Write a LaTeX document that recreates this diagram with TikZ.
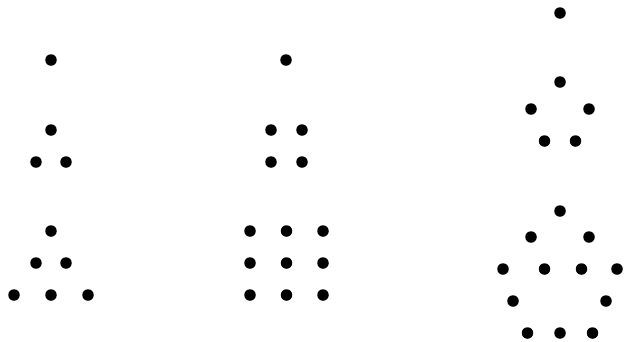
\documentclass[tikz,border=0pt]{standalone}
\usepackage{xcolor}
\usepackage{tikz}
\tikzset{
  dot/.style={circle,fill=black,inner sep=0pt,minimum size=11.5pt}
}
\begin{document}
\begin{tikzpicture}[x=1pt,y=-1pt]
\useasboundingbox (0,0) rectangle (624,341);
% left column: triangular numbers
\node[dot] (t1) at (51,60) {};
\foreach \x/\y [count=\i] in {51/130,36/162,66/162}
  \node[dot] (tb\i) at (\x,\y) {};
\foreach \x/\y [count=\i] in {51/231,36/263,66/263,14/295,51/295,88/295}
  \node[dot] (tc\i) at (\x,\y) {};
% middle column: square numbers
\node[dot] (s1) at (286,60) {};
\foreach \x in {271,302}
  \foreach \y in {130,162}
    \node[dot] (sb\x\y) at (\x,\y) {};
\foreach \x in {250,286.5,323}
  \foreach \y in {231,263,295}
    \node[dot] at (\x,\y) {};
% right column: pentagonal numbers
\node[dot] (p1) at (560,13) {};
\foreach \x/\y [count=\i] in {560/82,531/109,589/109,544.5/141,575.5/141}
  \node[dot] (pb\i) at (\x,\y) {};
\foreach \x/\y [count=\i] in {560/211,531/237,589/237,503/269,544.5/269,581.5/269,617/269,513/301,606/301,527.5/333,560/333,592.5/333}
  \node[dot] (pc\i) at (\x,\y) {};
\end{tikzpicture}
\end{document}
